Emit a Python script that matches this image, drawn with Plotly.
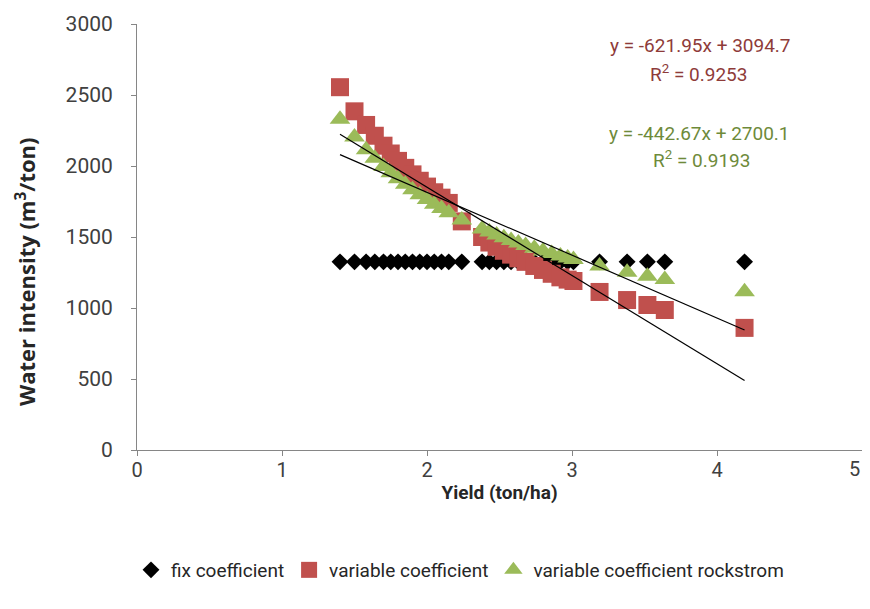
import plotly.graph_objects as go

# ---- data ----
yield_t = [1.40, 1.50, 1.58, 1.64, 1.70, 1.75, 1.80, 1.85, 1.90, 1.95, 2.00, 2.05, 2.10, 2.15,
           2.24, 2.38, 2.43, 2.48, 2.53, 2.58, 2.63, 2.68, 2.74, 2.80, 2.86, 2.92, 2.97, 3.01,
           3.19, 3.38, 3.52, 3.64, 4.19]

fix_coef = [1325] * len(yield_t)

var_coef = [2555, 2385, 2289, 2213, 2143, 2088, 2036, 1987, 1941, 1896, 1855, 1815, 1777, 1740,
            1610, 1500, 1461, 1431, 1403, 1376, 1350, 1325, 1296, 1268, 1241, 1216, 1200, 1190,
            1113, 1056, 1021, 986, 860]

var_rock = [2330, 2204, 2115, 2054, 1997, 1952, 1910, 1871, 1833, 1797, 1764, 1731, 1701, 1671,
            1620, 1556, 1535, 1514, 1495, 1476, 1458, 1441, 1421, 1402, 1384, 1366, 1352, 1341,
            1295, 1252, 1223, 1201, 1115]

# linear trend lines as labelled on the chart
red_slope, red_icpt, red_r2 = -621.95, 3094.7, 0.9253
grn_slope, grn_icpt, grn_r2 = -442.67, 2700.1, 0.9193

x_ticks = [0, 1, 2, 3, 4, 5]
x_ticktext = ["0", "1", "2", "3", "4", ""]   # last label is drawn nudged inward (as in the original)
y_ticks = [0, 500, 1000, 1500, 2000, 2500, 3000]

FONT = "Roboto, 'Open Sans', sans-serif"
RED = "#C0504D"
GREEN = "#9BBB59"
RED_TXT = "#8E3B39"
GRN_TXT = "#6E8A3A"

# figure sized so that, with the page's default 8px body margin, it fills the 870x609 window
W, H = 854, 593
L, R, T, B = 129, 0, 16, 151
pw, ph = W - L - R, H - T - B

def px(xp):
    return (xp - L) / pw

def py(yp):
    return (H - B - yp) / ph

fig = go.Figure()
fig.add_trace(go.Scatter(x=yield_t, y=fix_coef, mode="markers", name="fix coefficient",
                         marker=dict(symbol="diamond", size=13, color="#000000")))
fig.add_trace(go.Scatter(x=yield_t, y=var_coef, mode="markers", name="variable coefficient",
                         marker=dict(symbol="square", size=18, color=RED)))
fig.add_trace(go.Scatter(x=yield_t, y=var_rock, mode="markers", name="variable coefficient rockstrom",
                         marker=dict(symbol="triangle-up", size=18, color=GREEN)))

xmin, xmax = min(yield_t), max(yield_t)
for s, b in [(red_slope, red_icpt), (grn_slope, grn_icpt)]:
    fig.add_trace(go.Scatter(x=[xmin, xmax], y=[s * xmin + b, s * xmax + b], mode="lines",
                             line=dict(color="#000000", width=1.2), showlegend=False,
                             hoverinfo="skip"))

def eq_text(s, b):
    return f"y = {s:.2f}x + {b:.1f}"

ann = [
    (692, 37, eq_text(red_slope, red_icpt), RED_TXT),
    (690, 65, f"R<sup>2</sup> = {red_r2}", RED_TXT),
    (691, 125, eq_text(grn_slope, grn_icpt), GRN_TXT),
    (693, 152, f"R<sup>2</sup> = {grn_r2}", GRN_TXT),
]
for xp, yp, txt, col in ann:
    fig.add_annotation(x=px(xp), y=py(yp), xref="paper", yref="paper", text=txt,
                       xanchor="center", yanchor="middle", showarrow=False,
                       font=dict(family=FONT, size=19, color=col))

# last x tick label, nudged inside the chart area
fig.add_annotation(x=px(846), y=py(461), xref="paper", yref="paper", text=str(x_ticks[-1]),
                   xanchor="center", yanchor="middle", showarrow=False,
                   font=dict(family=FONT, size=20, color="#404040"))

# y-axis title
fig.add_annotation(x=px(17), y=py(264), xref="paper", yref="paper",
                   text="<b>Water intensity (m<sup>3</sup>/ton)</b>", textangle=-90,
                   xanchor="center", yanchor="middle", showarrow=False,
                   font=dict(family="'Open Sans', Roboto, sans-serif", size=22, color="#262626"))

fig.update_layout(
    width=W, height=H,
    margin=dict(l=L, r=R, t=T, b=B, autoexpand=False),
    paper_bgcolor="white", plot_bgcolor="white",
    font=dict(family=FONT, color="#404040"),
    showlegend=True,
    legend=dict(orientation="h", xref="container", yref="container",
                x=452 / W, xanchor="center", y=1 - 562 / H, yanchor="middle",
                font=dict(family=FONT, size=19, color="#262626"), itemsizing="trace",
                itemwidth=30, tracegroupgap=0),
    xaxis=dict(range=[0, 5], tickvals=x_ticks, ticktext=x_ticktext, showgrid=False, zeroline=False,
               showline=True, linecolor="#868686", linewidth=1, ticks="outside", ticklen=5,
               tickcolor="#868686", tickfont=dict(size=20, color="#404040"),
               ticklabelstandoff=-3,
               title=dict(text="<b>Yield (ton/ha)</b>", font=dict(size=19, color="#262626"), standoff=4)),
    yaxis=dict(range=[0, 3000], tickvals=y_ticks, showgrid=False, zeroline=False,
               showline=True, linecolor="#868686", linewidth=1, ticks="outside", ticklen=5,
               tickcolor="#868686", tickfont=dict(size=21, color="#404040"),
               ticklabelstandoff=14),
)

fig.write_html("out.html")
